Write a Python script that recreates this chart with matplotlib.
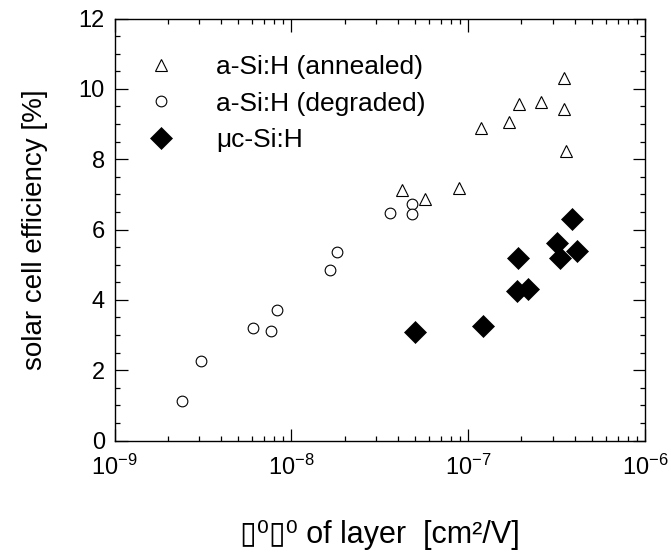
import numpy as np
import matplotlib
matplotlib.use("Agg")
import matplotlib.pyplot as plt
from matplotlib.ticker import LogLocator, MultipleLocator, FixedLocator, FuncFormatter

plt.rcParams['font.family'] = ['Liberation Sans', 'DejaVu Sans']
plt.rcParams['mathtext.fontset'] = 'custom'
plt.rcParams['mathtext.rm'] = 'Liberation Sans'
plt.rcParams['mathtext.it'] = 'Liberation Sans:italic'
plt.rcParams['mathtext.bf'] = 'Liberation Sans:bold'

# a-Si:H after annealing
annealed_mt = [4.2e-8, 5.7e-8, 8.9e-8, 1.18e-7, 1.69e-7, 1.94e-7, 2.57e-7, 3.47e-7, 3.5e-7, 3.56e-7]
annealed_eff = [7.11, 6.87, 7.19, 8.88, 9.05, 9.56, 9.63, 9.43, 10.3, 8.24]

# a-Si:H after light soaking
degraded_mt = [2.4e-9, 3.09e-9, 6.1e-9, 7.7e-9, 8.3e-9, 1.65e-8, 1.81e-8, 3.61e-8, 4.81e-8, 4.81e-8]
degraded_eff = [1.13, 2.26, 3.19, 3.11, 3.70, 4.86, 5.36, 6.48, 6.72, 6.44]

# microcrystalline cells
uc_mt = [5.0e-8, 1.22e-7, 1.88e-7, 2.17e-7, 1.9e-7, 3.32e-7, 3.16e-7, 4.14e-7, 3.87e-7]
uc_eff = [3.09, 3.25, 4.26, 4.30, 5.19, 5.18, 5.61, 5.39, 6.29]

fig = plt.figure(figsize=(6.71, 5.53), dpi=100)
ax = fig.add_axes([0.1708, 0.2034, 0.7905, 0.7631])

ax.plot(annealed_mt, annealed_eff, ls='none', marker='^', ms=8.2, mfc='white',
        mec='black', mew=0.8, label='a-Si:H (annealed)')
ax.plot(degraded_mt, degraded_eff, ls='none', marker='o', ms=7.7, mfc='white',
        mec='black', mew=0.8, label='a-Si:H (degraded)')
ax.plot(uc_mt, uc_eff, ls='none', marker='D', ms=10.8, mfc='black',
        mec='black', mew=0.5, label='\u03bcc-Si:H')

ax.set_xscale('log')
ax.set_xlim(1e-9, 1e-6)
ax.set_ylim(0, 12)

ax.xaxis.set_major_locator(FixedLocator([1e-9, 1e-8, 1e-7, 1e-6]))
ax.xaxis.set_minor_locator(LogLocator(base=10, subs=np.arange(2, 10)))
ax.xaxis.set_major_formatter(FuncFormatter(
    lambda v, p: '10$^{%d}$' % int(round(np.log10(v)))))
ax.yaxis.set_major_locator(MultipleLocator(2))
ax.yaxis.set_minor_locator(MultipleLocator(0.5))

ax.tick_params(which='both', direction='in', top=True, right=True, width=0.9)
ax.tick_params(which='major', length=9, labelsize=17, pad=7)
ax.tick_params(which='minor', length=3.5)
ax.tick_params(axis='x', which='major', pad=10)
for s in ax.spines.values():
    s.set_linewidth(1.0)

ax.set_ylabel('solar cell efficiency [%]', fontsize=20, labelpad=22)
ax.set_xlabel('\u25af\u2070\u25af\u2070 of layer  [cm\u00b2/V]', fontsize=22, labelpad=29)

ax.legend(loc='upper left', bbox_to_anchor=(0.0496, 0.913), frameon=False,
          fontsize=19, numpoints=1, handlelength=1.5, handletextpad=1.34,
          labelspacing=0.47, borderpad=0, borderaxespad=0)

fig.savefig('out.png', dpi=100)
